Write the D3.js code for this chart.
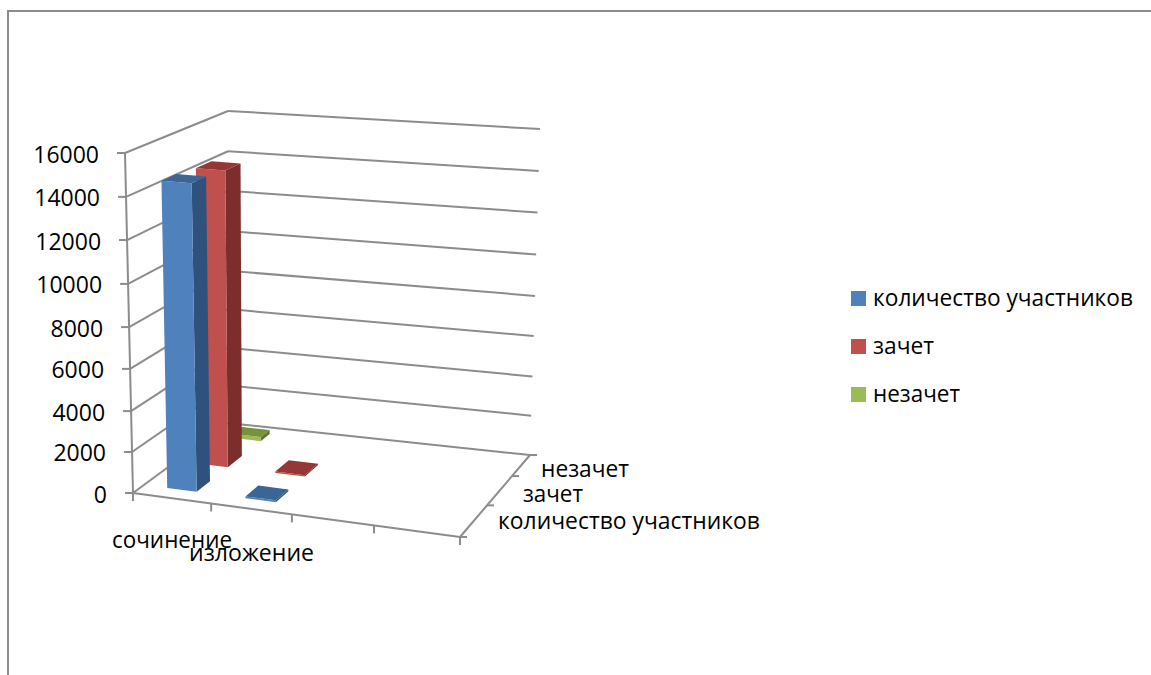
<!DOCTYPE html>
<html><head><meta charset="utf-8">
<script src="https://cdn.jsdelivr.net/npm/d3@7"></script>
<style>html,body{margin:0;padding:0;background:#fff}svg{display:block}text{font-family:"Open Sans",sans-serif;fill:#000}</style>
</head><body><svg id="c" width="1151" height="675"></svg>
<script>
const categories = ["сочинение", "изложение", "", ""];
const seriesNames = ["количество участников", "зачет", "незачет"];
const participants = [14600, 90, 0, 0];
const passed = [14450, 70, 0, 0];
const failed = [220, 0, 0, 0];
const seriesValues = [participants, passed, failed];
const valueTicks = [0, 2000, 4000, 6000, 8000, 10000, 12000, 14000, 16000];

const frontFace = ["#4f81bd", "#c0504d", "#9bbb59"];
const sideFace = ["#2f527d", "#7b2e2c", "#5f7530"];
const topFace = ["#3a6595", "#953735", "#76923c"];
const gridColor = "#8c8c8c";

// 3D frame of the chart: corners of the floor and ceiling in the picture
const floor = {fl:[133,493], fr:[460,537], br:[530,455], bl:[228,423]};
const ceil = {fl:[125,153], fr:[462,182], br:[540,129], bl:[228,111]};

// perspective foreshortening along the three axes
const u = d3.scaleLinear([0,1,2,3,4], [0, 0.239, 0.486, 0.737, 1]);
const v = d3.scaleLinear([0,1,1.3,2,3], [0, 0.386, 0.458, 0.743, 1]);
const h = d3.scaleLinear(valueTicks, [0, 0.1206, 0.241, 0.365, 0.488, 0.615, 0.744, 0.871, 1]);

const bil = (q, a, b) => [0, 1].map(i =>
  (1-a)*(1-b)*q.fl[i] + a*(1-b)*q.fr[i] + a*b*q.br[i] + (1-a)*b*q.bl[i]);
const P = (c, s, val) => {
  const a = u(c), b = v(s), t = h(val);
  const p0 = bil(floor, a, b), p1 = bil(ceil, a, b);
  return [p0[0] + (p1[0]-p0[0])*t, p0[1] + (p1[1]-p0[1])*t];
};

const svg = d3.select("#c");
const line = (p, q, w=2) => svg.append("line").attr("x1",p[0]).attr("y1",p[1]).attr("x2",q[0]).attr("y2",q[1])
  .attr("stroke",gridColor).attr("stroke-width",w);
const add = (p, dx, dy) => [p[0]+dx, p[1]+dy];

// outer border
svg.append("path").attr("d","M8,675V11H1151").attr("fill","none").attr("stroke",gridColor).attr("stroke-width",2);

const nC = categories.length, nS = seriesNames.length;
// gridlines on both walls, value axis
valueTicks.forEach(t => {
  line(P(0,0,t), P(0,nS,t));
  line(P(0,nS,t), P(nC,nS,t));
  line(P(0,0,t), add(P(0,0,t),-8,0));
});
line(P(0,0,0), P(0,0,16000));
// floor axes
line(P(0,0,0), P(nC,0,0));
line(P(nC,0,0), P(nC,nS,0));
d3.range(nC+1).forEach(c => line(P(c,0,0), add(P(c,0,0),0,8)));
d3.range(nS+1).forEach(s => line(P(nC,s,0), add(P(nC,s,0),7,0)));

// bars, back row first
const lo = 0.3, hi = 0.68;
const poly = (pts, fill) => svg.append("polygon").attr("points", pts.map(p=>p.join(",")).join(" ")).attr("fill",fill);
d3.range(nS-1,-1,-1).forEach(s => {
  d3.range(nC).forEach(c => {
    const val = seriesValues[s][c];
    if (!val) return;
    const a0=c+lo, a1=c+hi, b0=s+lo, b1=s+hi;
    poly([P(a1,b0,0),P(a1,b1,0),P(a1,b1,val),P(a1,b0,val)], sideFace[s]);
    poly([P(a0,b0,0),P(a1,b0,0),P(a1,b0,val),P(a0,b0,val)], frontFace[s]);
    poly([P(a0,b0,val),P(a1,b0,val),P(a1,b1,val),P(a0,b1,val)], topFace[s]);
  });
});

const label = (txt, x, y, anchor, len, fs=24) => {
  const t = svg.append("text").attr("x",x).attr("y",y).attr("text-anchor",anchor).attr("font-size",fs).text(txt);
  if (len) t.attr("textLength",len).attr("lengthAdjust","spacingAndGlyphs");
  return t;
};
valueTicks.forEach(t => {
  const p = P(0,0,t);
  label(String(t), p[0]-26, p[1]+9.5, "end", null, 23);
});
label(categories[0], 112, 548, "start", 120);
label(categories[1], 189, 561, "start", 125);
label(seriesNames[2], 541, 477, "start", 88);
label(seriesNames[1], 523, 502, "start", 60);
label(seriesNames[0], 498, 529, "start", 262);

// legend
const legY = d3.scalePoint().domain(seriesNames).range([298.5, 394.5]);
seriesNames.forEach((n,i) => {
  svg.append("rect").attr("x",851).attr("y",legY(n)-7.5).attr("width",15).attr("height",15).attr("fill",frontFace[i]);
  label(n, 873, legY(n)+7.5, "start", i===0?260:(i===1?61:87));
});
</script></body></html>
